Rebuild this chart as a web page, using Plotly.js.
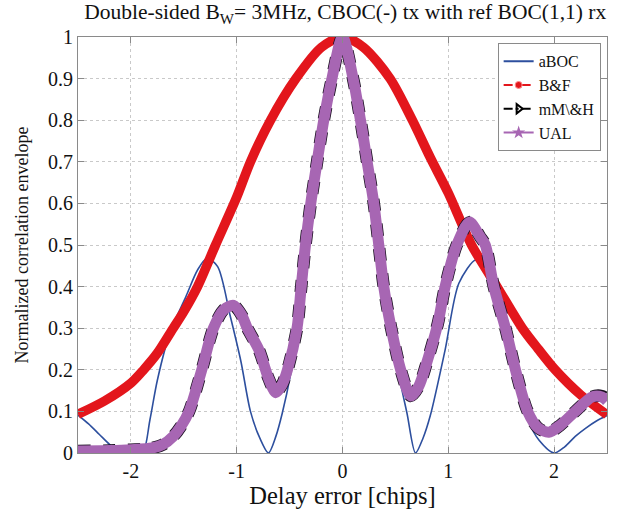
<!DOCTYPE html>
<html>
<head>
<meta charset="utf-8">
<script src="https://cdn.plot.ly/plotly-3.0.1.min.js"></script>
<style>html,body{margin:0;padding:0;background:#fff;}</style>
</head>
<body>
<div id="chart" style="width:621px;height:516px;"></div>
<script>
// aBOC
const abocX = [-2.5,-2.4,-2.3,-2.2,-2.11,-2.0,-1.89,-1.82,-1.75,-1.63,-1.48,-1.37,-1.28,-1.18,-1.06,-0.96,-0.87,-0.78,-0.70,-0.63,-0.57,-0.49,-0.43,-0.39,-0.35,-0.30,-0.24,-0.177,-0.10,0,0.10,0.17,0.233,0.296,0.343,0.39,0.46,0.53,0.61,0.69,0.76,0.83,0.97,1.10,1.26,1.34,1.43,1.54,1.64,1.75,1.86,2.0,2.1,2.2,2.3,2.4,2.5];
const abocY = [0.091,0.07,0.045,0.02,0.0,0.0,0.0,0.08,0.175,0.29,0.376,0.44,0.468,0.448,0.328,0.22,0.1,0.035,0.0,0.04,0.095,0.19,0.29,0.4,0.5,0.6,0.7,0.8,0.9,1.0,0.9,0.8,0.7,0.6,0.5,0.4,0.29,0.19,0.095,0.0,0.035,0.09,0.248,0.408,0.464,0.436,0.37,0.27,0.17,0.08,0.03,0.0,0.015,0.04,0.06,0.077,0.09];
// B&F
const bfX = [-2.5,-2.25,-2.0,-1.88,-1.75,-1.6,-1.5,-1.37,-1.2,-1.0,-0.87,-0.68,-0.44,-0.2,0,0.2,0.45,0.66,0.83,1.0,1.22,1.46,1.7,1.85,2.01,2.25,2.5];
const bfY = [0.093,0.125,0.168,0.2,0.24,0.3,0.34,0.4,0.5,0.615,0.7,0.8,0.9,0.975,1.0,0.975,0.9,0.8,0.71,0.625,0.5,0.4,0.3,0.25,0.2,0.14,0.092];
// mM\&H
const mmhX = [-2.5,-2.2,-2.0,-1.8,-1.7,-1.6,-1.53,-1.45,-1.33,-1.22,-1.12,-1.03,-0.95,-0.9,-0.79,-0.7,-0.63,-0.57,-0.52,-0.43,-0.39,-0.35,-0.30,-0.24,-0.177,-0.10,0,0.10,0.17,0.233,0.296,0.343,0.39,0.46,0.55,0.645,0.72,0.8,0.9,0.97,1.08,1.2,1.3,1.35,1.43,1.54,1.635,1.75,1.85,1.95,2.05,2.2,2.36,2.45,2.5];
const mmhY = [0.005,0.006,0.008,0.012,0.02,0.04,0.063,0.1,0.2,0.3,0.345,0.355,0.33,0.3,0.248,0.18,0.145,0.165,0.2,0.3,0.4,0.5,0.6,0.7,0.8,0.9,1.0,0.9,0.8,0.7,0.6,0.5,0.4,0.3,0.2,0.137,0.16,0.22,0.31,0.4,0.5,0.555,0.52,0.5,0.4,0.3,0.2,0.1,0.06,0.05,0.065,0.1,0.135,0.137,0.13];
// UAL
const ualX = [-2.5,-2.2,-2.0,-1.8,-1.7,-1.6,-1.53,-1.45,-1.33,-1.22,-1.12,-1.03,-0.95,-0.9,-0.79,-0.7,-0.63,-0.57,-0.52,-0.43,-0.39,-0.35,-0.30,-0.24,-0.177,-0.10,0,0.10,0.17,0.233,0.296,0.343,0.39,0.46,0.55,0.645,0.72,0.8,0.9,0.97,1.08,1.2,1.3,1.35,1.43,1.54,1.635,1.75,1.85,1.95,2.05,2.2,2.36,2.45,2.5];
const ualY = [0.005,0.006,0.008,0.012,0.02,0.04,0.063,0.1,0.2,0.3,0.345,0.355,0.33,0.3,0.248,0.18,0.145,0.165,0.2,0.3,0.4,0.5,0.6,0.7,0.8,0.9,1.0,0.9,0.8,0.7,0.6,0.5,0.4,0.3,0.2,0.137,0.16,0.22,0.31,0.4,0.5,0.555,0.52,0.5,0.4,0.3,0.2,0.1,0.06,0.05,0.065,0.1,0.135,0.135,0.125];

const seriesNames = ['aBOC','B&F','mM\\&H','UAL'];
const xTicks = [-2,-1,0,1,2];
const yTicks = [0,0.1,0.2,0.3,0.4,0.5,0.6,0.7,0.8,0.9,1];
const yTickText = ['0','0.1','0.2','0.3','0.4','0.5','0.6','0.7','0.8','0.9','1'];

const BLUE = '#2d4f9e', RED = '#e3161c', BLACK = '#000000', PURPLE = '#a766b3';
const SERIF = 'Liberation Serif, Times New Roman, serif';

const traces = [
  {x: abocX, y: abocY, mode: 'lines', line: {color: BLUE, width: 1.6, shape: 'spline', smoothing: 0.8}, showlegend: false, hoverinfo: 'skip'},
  {x: bfX, y: bfY, mode: 'lines', line: {color: RED, width: 9.5, shape: 'spline', smoothing: 0.8}, showlegend: false, hoverinfo: 'skip'},
  {x: mmhX, y: mmhY, mode: 'lines', line: {color: '#1a1020', width: 12.5, shape: 'spline', smoothing: 0.8, dash: 'dot'}, showlegend: false, hoverinfo: 'skip'},
  {x: ualX, y: ualY, mode: 'lines', line: {color: PURPLE, width: 11, shape: 'spline', smoothing: 0.8}, showlegend: false, hoverinfo: 'skip'},
  // legend entries
  {x: [null], y: [null], name: seriesNames[0], mode: 'lines', line: {color: BLUE, width: 2}},
  {x: [null], y: [null], name: seriesNames[1], mode: 'lines+markers', line: {color: RED, width: 2, dash: 'dash'}, marker: {symbol: 'circle', color: RED, size: 7, line: {color: '#ff9090', width: 1}}},
  {x: [null], y: [null], name: seriesNames[2], mode: 'lines+markers', line: {color: BLACK, width: 2, dash: 'dashdot'}, marker: {symbol: 'triangle-right-open', color: BLACK, size: 8, line: {width: 2}}},
  {x: [null], y: [null], name: seriesNames[3], mode: 'lines+markers', line: {color: PURPLE, width: 2}, marker: {symbol: 'star', color: PURPLE, size: 10}}
];

const axisCommon = {
  showline: true, linecolor: '#8a8a8a', linewidth: 1, mirror: 'ticks',
  ticks: 'inside', ticklen: 6, tickcolor: '#8a8a8a', tickwidth: 1,
  showgrid: true, gridcolor: '#c9c9c9', griddash: 'dot', gridwidth: 1,
  zeroline: false, tickfont: {family: SERIF, size: 20, color: '#111'}
};

const layout = {
  width: 621, height: 516,
  margin: {l: 78, r: 14, t: 37, b: 63},
  paper_bgcolor: '#fff', plot_bgcolor: '#fff',
  font: {family: SERIF, color: '#111'},
  title: {text: 'Double-sided B<sub>W</sub>= 3MHz, CBOC(-) tx with ref BOC(1,1) rx', font: {family: SERIF, size: 21.5, color: '#111'}, x: 0.556, xanchor: 'center', y: 0.977, yref: 'container', yanchor: 'middle'},
  xaxis: Object.assign({}, axisCommon, {range: [-2.5, 2.5], tickvals: xTicks, ticktext: xTicks.map(String),
    title: {text: 'Delay error [chips]', font: {family: SERIF, size: 24.5, color: '#111'}, standoff: 4}}),
  yaxis: Object.assign({}, axisCommon, {range: [0, 1], tickvals: yTicks, ticktext: yTickText,
    title: {text: 'Normalized correlation envelope', font: {family: SERIF, size: 18, color: '#111'}, standoff: 14}}),
  legend: {x: 0.988, xanchor: 'right', y: 0.985, yanchor: 'top', bgcolor: '#fff', bordercolor: '#8a8a8a', borderwidth: 1,
    font: {family: SERIF, size: 16, color: '#111'}, tracegroupgap: 0, itemwidth: 30},
  showlegend: true
};

Plotly.newPlot('chart', traces, layout, {displayModeBar: false, staticPlot: true});
</script>
</body>
</html>
